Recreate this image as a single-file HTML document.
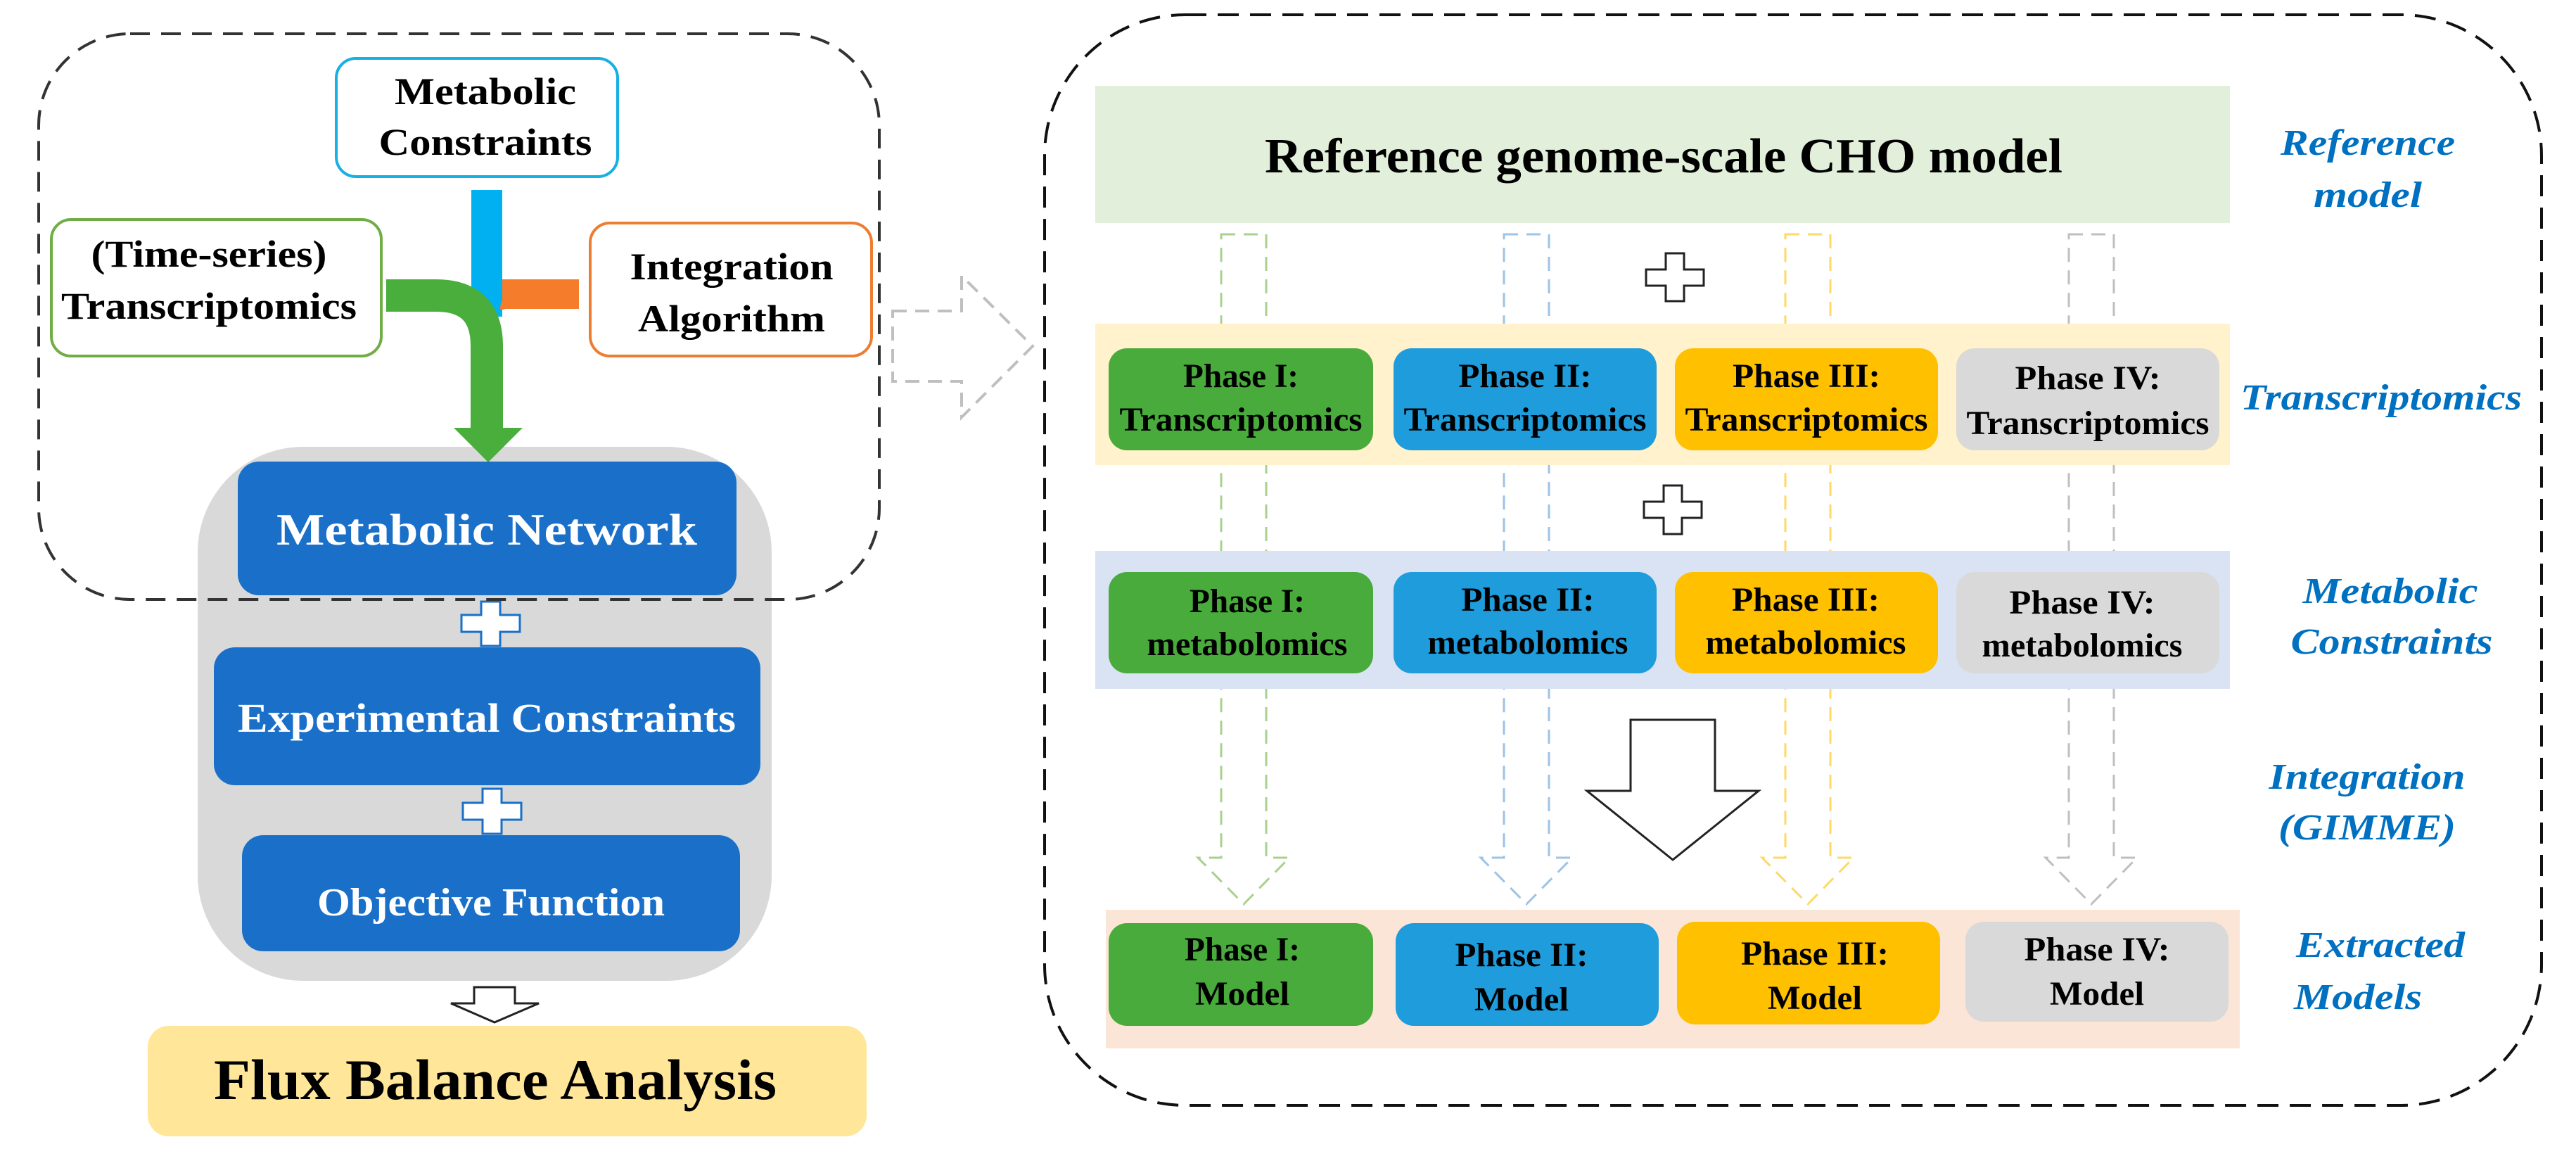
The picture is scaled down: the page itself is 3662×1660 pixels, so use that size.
<!DOCTYPE html>
<html><head><meta charset="utf-8"><style>html,body{margin:0;padding:0;background:#fff}svg{display:block}svg text{font-family:"Liberation Serif",serif;font-weight:bold}</style></head>
<body>
<svg width="3662" height="1660" viewBox="0 0 3662 1660" xmlns="http://www.w3.org/2000/svg">
<rect width="3662" height="1660" fill="#fff"/>
<!-- LEFT PANEL -->
<rect x="281" y="635" width="816" height="759" rx="150" fill="#d9d9d9"/>
<rect x="478" y="83" width="400" height="168" rx="28" fill="#fff" stroke="#17b0e4" stroke-width="4"/>
<rect x="73" y="312" width="469" height="194" rx="28" fill="#fff" stroke="#70ad47" stroke-width="4"/>
<rect x="839" y="317" width="400" height="189" rx="28" fill="#fff" stroke="#ed7d31" stroke-width="4"/>
<text x="690" y="148" font-size="54" text-anchor="middle" textLength="258" lengthAdjust="spacingAndGlyphs">Metabolic</text>
<text x="690" y="220" font-size="54" text-anchor="middle" textLength="303" lengthAdjust="spacingAndGlyphs">Constraints</text>
<text x="297" y="379" font-size="54" text-anchor="middle" textLength="335" lengthAdjust="spacingAndGlyphs">(Time-series)</text>
<text x="297" y="453" font-size="54" text-anchor="middle" textLength="420" lengthAdjust="spacingAndGlyphs">Transcriptomics</text>
<text x="1040" y="397" font-size="54" text-anchor="middle" textLength="289" lengthAdjust="spacingAndGlyphs">Integration</text>
<text x="1040" y="471" font-size="54" text-anchor="middle" textLength="266" lengthAdjust="spacingAndGlyphs">Algorithm</text>
<rect x="670" y="270" width="44" height="180" fill="#00b0f0"/>
<path d="M714,418 H823" stroke="#f47c2a" stroke-width="42" fill="none"/>
<path d="M714,440 Q714,418 736,418" stroke="#f47c2a" stroke-width="6" fill="none"/>
<path d="M549,420 H620 Q692,420 692,492 V610" stroke="#4aae3c" stroke-width="46" fill="none"/>
<polygon points="645,608 743,608 694,657" fill="#4aae3c"/>
<rect x="338" y="656" width="709" height="190" rx="30" fill="#1a70c9"/>
<rect x="304" y="920" width="777" height="196" rx="30" fill="#1a70c9"/>
<rect x="344" y="1187" width="708" height="165" rx="30" fill="#1a70c9"/>
<text x="692" y="774" font-size="64" fill="#fff" text-anchor="middle" textLength="598" lengthAdjust="spacingAndGlyphs">Metabolic Network</text>
<text x="692" y="1040" font-size="58" fill="#fff" text-anchor="middle" textLength="708" lengthAdjust="spacingAndGlyphs">Experimental Constraints</text>
<text x="698" y="1301" font-size="56" fill="#fff" text-anchor="middle" textLength="494" lengthAdjust="spacingAndGlyphs">Objective Function</text>
<g fill="#fff" stroke="#1a70c9" stroke-width="3">
<path d="M684,855 H711 V874 H739 V898 H711 V918 H684 V898 H656 V874 H684 Z"/>
<path d="M686,1121 H713 V1141 H741 V1165 H713 V1185 H686 V1165 H658 V1141 H686 Z"/>
</g>
<polygon points="674,1403 732,1403 732,1426 766,1426 703,1453 641,1426 674,1426" fill="#fff" stroke="#222" stroke-width="3"/>
<rect x="210" y="1458" width="1022" height="157" rx="30" fill="#ffe699"/>
<text x="704" y="1562" font-size="82" text-anchor="middle" textLength="800" lengthAdjust="spacingAndGlyphs">Flux Balance Analysis</text>
<rect x="55" y="48" width="1195" height="804" rx="130" fill="none" stroke="#333" stroke-width="4" stroke-dasharray="28,16"/>
<polygon points="1269,442 1367,442 1367,392 1468,492 1367,593 1367,542 1269,542" fill="none" stroke="#bfbfbf" stroke-width="4" stroke-dasharray="20,12"/>
<!-- RIGHT PANEL -->
<g fill="none" stroke-width="3" stroke-dasharray="20,12">
<polygon points="1736,333 1800,333 1800,1219 1833,1219 1768,1285 1703,1219 1736,1219" stroke="#a9d18e"/>
<polygon points="2138,333 2202,333 2202,1219 2235,1219 2170,1285 2105,1219 2138,1219" stroke="#9dc3e6"/>
<polygon points="2538,333 2602,333 2602,1219 2635,1219 2570,1285 2505,1219 2538,1219" stroke="#ffd966"/>
<polygon points="2941,333 3005,333 3005,1219 3038,1219 2973,1285 2908,1219 2941,1219" stroke="#bfbfbf"/>
</g>
<rect x="1557" y="122" width="1613" height="195" fill="#e2efda"/>
<text x="2365" y="245" font-size="70" text-anchor="middle" textLength="1134" lengthAdjust="spacingAndGlyphs">Reference genome-scale CHO model</text>
<rect x="1557" y="460" width="1613" height="201" fill="#fff2cc"/>
<rect x="1557" y="783" width="1613" height="196" fill="#dae3f3"/>
<rect x="1572" y="1293" width="1612" height="197" fill="#fbe5d6"/>
<g>
<rect x="1576" y="495" width="376" height="145" rx="26" fill="#48ab3b"/>
<rect x="1981" y="495" width="374" height="145" rx="26" fill="#1e9cdc"/>
<rect x="2381" y="495" width="374" height="145" rx="26" fill="#ffc000"/>
<rect x="2781" y="495" width="374" height="145" rx="26" fill="#d9d9d9"/>
<rect x="1576" y="813" width="376" height="144" rx="26" fill="#48ab3b"/>
<rect x="1981" y="813" width="374" height="144" rx="26" fill="#1e9cdc"/>
<rect x="2381" y="813" width="374" height="144" rx="26" fill="#ffc000"/>
<rect x="2781" y="813" width="374" height="144" rx="26" fill="#d9d9d9"/>
<rect x="1576" y="1312" width="376" height="146" rx="26" fill="#48ab3b"/>
<rect x="1984" y="1312" width="374" height="146" rx="26" fill="#1e9cdc"/>
<rect x="2384" y="1310" width="374" height="146" rx="26" fill="#ffc000"/>
<rect x="2794" y="1310" width="374" height="142" rx="26" fill="#d9d9d9"/>
</g>
<g font-size="48" text-anchor="middle">
<text x="1764" y="550" textLength="164" lengthAdjust="spacingAndGlyphs">Phase I:</text>
<text x="1764" y="612" textLength="345" lengthAdjust="spacingAndGlyphs">Transcriptomics</text>
<text x="2168" y="550" textLength="189" lengthAdjust="spacingAndGlyphs">Phase II:</text>
<text x="2168" y="612" textLength="345" lengthAdjust="spacingAndGlyphs">Transcriptomics</text>
<text x="2568" y="550" textLength="210" lengthAdjust="spacingAndGlyphs">Phase III:</text>
<text x="2568" y="612" textLength="345" lengthAdjust="spacingAndGlyphs">Transcriptomics</text>
<text x="2968" y="553" textLength="207" lengthAdjust="spacingAndGlyphs">Phase IV:</text>
<text x="2968" y="617" textLength="345" lengthAdjust="spacingAndGlyphs">Transcriptomics</text>
<text x="1773" y="870" textLength="164" lengthAdjust="spacingAndGlyphs">Phase I:</text>
<text x="1773" y="931" textLength="285" lengthAdjust="spacingAndGlyphs">metabolomics</text>
<text x="2172" y="868" textLength="189" lengthAdjust="spacingAndGlyphs">Phase II:</text>
<text x="2172" y="929" textLength="285" lengthAdjust="spacingAndGlyphs">metabolomics</text>
<text x="2567" y="868" textLength="210" lengthAdjust="spacingAndGlyphs">Phase III:</text>
<text x="2567" y="929" textLength="285" lengthAdjust="spacingAndGlyphs">metabolomics</text>
<text x="2960" y="872" textLength="207" lengthAdjust="spacingAndGlyphs">Phase IV:</text>
<text x="2960" y="933" textLength="285" lengthAdjust="spacingAndGlyphs">metabolomics</text>
<text x="1766" y="1365" textLength="164" lengthAdjust="spacingAndGlyphs">Phase I:</text>
<text x="1766" y="1428" textLength="134" lengthAdjust="spacingAndGlyphs">Model</text>
<text x="2163" y="1373" textLength="189" lengthAdjust="spacingAndGlyphs">Phase II:</text>
<text x="2163" y="1436" textLength="134" lengthAdjust="spacingAndGlyphs">Model</text>
<text x="2580" y="1371" textLength="210" lengthAdjust="spacingAndGlyphs">Phase III:</text>
<text x="2580" y="1434" textLength="134" lengthAdjust="spacingAndGlyphs">Model</text>
<text x="2981" y="1365" textLength="207" lengthAdjust="spacingAndGlyphs">Phase IV:</text>
<text x="2981" y="1428" textLength="134" lengthAdjust="spacingAndGlyphs">Model</text>
</g>
<g fill="#fff" stroke="#222" stroke-width="3">
<path d="M2368,360 H2394 V383 H2422 V406 H2394 V428 H2368 V406 H2340 V383 H2368 Z"/>
<path d="M2365,690 H2391 V713 H2419 V736 H2391 V759 H2365 V736 H2337 V713 H2365 Z"/>
<polygon points="2318,1023 2438,1023 2438,1124 2500,1124 2378,1222 2256,1124 2318,1124"/>
</g>
<g font-size="52" font-style="italic" fill="#0070c0" text-anchor="middle">
<text x="3366" y="220" textLength="248" lengthAdjust="spacingAndGlyphs" style="font-style:italic">Reference</text>
<text x="3366" y="294" textLength="154" lengthAdjust="spacingAndGlyphs" style="font-style:italic">model</text>
<text x="3385" y="582" textLength="400" lengthAdjust="spacingAndGlyphs" style="font-style:italic">Transcriptomics</text>
<text x="3398" y="857" textLength="249" lengthAdjust="spacingAndGlyphs" style="font-style:italic">Metabolic</text>
<text x="3400" y="929" textLength="287" lengthAdjust="spacingAndGlyphs" style="font-style:italic">Constraints</text>
<text x="3365" y="1121" textLength="279" lengthAdjust="spacingAndGlyphs" style="font-style:italic">Integration</text>
<text x="3365" y="1193" textLength="252" lengthAdjust="spacingAndGlyphs" style="font-style:italic">(GIMME)</text>
<text x="3384" y="1360" textLength="240" lengthAdjust="spacingAndGlyphs" style="font-style:italic">Extracted</text>
<text x="3352" y="1434" textLength="182" lengthAdjust="spacingAndGlyphs" style="font-style:italic">Models</text>
</g>
<rect x="1485" y="21" width="2128" height="1550" rx="200" fill="none" stroke="#111" stroke-width="4" stroke-dasharray="30,16"/>
</svg>
</body></html>
